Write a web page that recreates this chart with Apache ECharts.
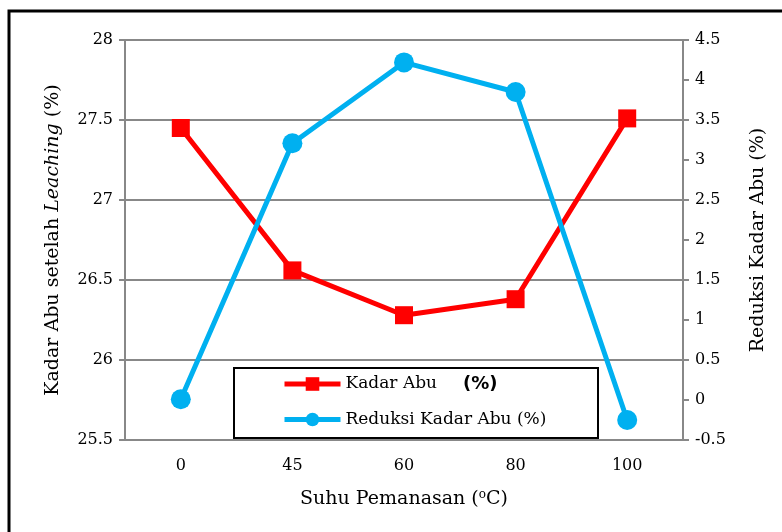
<!DOCTYPE html>
<html>
<head>
<meta charset="utf-8">
<script src="https://cdn.jsdelivr.net/npm/echarts@6/dist/echarts.min.js"></script>
<style>html,body{margin:0;padding:0;background:#fff;}#c{width:782px;height:532px;}</style>
</head>
<body>
<div id="c"></div>
<script>
var categories = ['0', '45', '60', '80', '100'];
var kadarAbu = [27.45, 26.56, 26.28, 26.38, 27.51];
var reduksi = [0.01, 3.21, 4.22, 3.85, -0.25];
var leftTicks = {min: 25.5, max: 28, interval: 0.5};
var rightTicks = {min: -0.5, max: 4.5, interval: 0.5};

var serif = 'DejaVu Serif';
var chart = echarts.init(document.getElementById('c'));
chart.setOption({
  animation: false,
  backgroundColor: '#fff',
  graphic: [
    {type: 'rect', z: -10, shape: {x: 9, y: 11, width: 900, height: 700}, style: {fill: 'none', stroke: '#000', lineWidth: 3}},
    {type: 'rect', z: 3, shape: {x: 234, y: 368, width: 364, height: 70}, style: {fill: '#fff', stroke: '#000', lineWidth: 2}}
  ],
  grid: {left: 125, right: 99, top: 40, bottom: 92},
  legend: {
    left: 282, top: 375, orient: 'vertical', itemGap: 18, itemWidth: 56, itemHeight: 17, padding: 0, z: 5,
    lineStyle: {width: 5},
    textStyle: {fontFamily: serif, fontSize: 17, color: '#000',
      rich: {a: {fontFamily: serif, fontSize: 17, color: '#000'}, b: {fontFamily: 'DejaVu Sans', fontSize: 18, fontWeight: 'bold', color: '#000', padding: [0, 0, 0, 26]}}},
    formatter: function (n) { return n === 'Kadar Abu' ? '{a|Kadar Abu}{b|(%)}' : n; },
    data: ['Kadar Abu', 'Reduksi Kadar Abu (%)']
  },
  xAxis: {
    type: 'category', data: categories,
    name: '{a|Suhu Pemanasan (}{s|o}{a|C)}', nameLocation: 'middle', nameGap: 49,
    nameTextStyle: {color: '#000', rich: {a: {fontFamily: serif, fontSize: 19, color: '#000'}, s: {fontFamily: serif, fontSize: 12, color: '#000', verticalAlign: 'top', padding: [0, 0, 9, 0]}}},
    axisLine: {onZero: false, lineStyle: {color: '#888', width: 2}},
    axisTick: {length: 6, lineStyle: {color: '#888', width: 2}},
    axisLabel: {fontFamily: serif, fontSize: 16, color: '#000', margin: 18}
  },
  yAxis: [
    {
      type: 'value', min: leftTicks.min, max: leftTicks.max, interval: leftTicks.interval,
      name: '{a|Kadar Abu setelah }{b|Leaching}{a| (%)}', nameLocation: 'middle', nameGap: 62, nameRotate: 90,
      nameTextStyle: {color: '#000', rich: {a: {fontFamily: serif, fontSize: 19, color: '#000'}, b: {fontFamily: serif, fontSize: 19, fontStyle: 'italic', color: '#000'}}},
      axisLine: {show: true, lineStyle: {color: '#888', width: 2}},
      axisTick: {show: true, length: 6, lineStyle: {color: '#888', width: 2}},
      splitLine: {show: true, lineStyle: {color: '#888', width: 2}},
      axisLabel: {fontFamily: serif, fontSize: 16, color: '#000', margin: 12}
    },
    {
      type: 'value', min: rightTicks.min, max: rightTicks.max, interval: rightTicks.interval,
      name: 'Reduksi Kadar Abu (%)', nameLocation: 'middle', nameGap: 66, nameRotate: 90,
      nameTextStyle: {fontFamily: serif, fontSize: 19, color: '#000'},
      axisLine: {show: true, lineStyle: {color: '#888', width: 2}},
      axisTick: {show: true, length: 6, lineStyle: {color: '#888', width: 2}},
      splitLine: {show: false},
      axisLabel: {fontFamily: serif, fontSize: 16, color: '#000', margin: 12}
    }
  ],
  series: [
    {name: 'Kadar Abu', type: 'line', yAxisIndex: 0, data: kadarAbu, symbol: 'rect', symbolSize: 18,
      lineStyle: {color: '#FF0000', width: 5}, itemStyle: {color: '#FF0000'}},
    {name: 'Reduksi Kadar Abu (%)', type: 'line', yAxisIndex: 1, data: reduksi, symbol: 'circle', symbolSize: 20,
      lineStyle: {color: '#00B0F0', width: 5}, itemStyle: {color: '#00B0F0'}}
  ]
});
</script>
</body>
</html>
